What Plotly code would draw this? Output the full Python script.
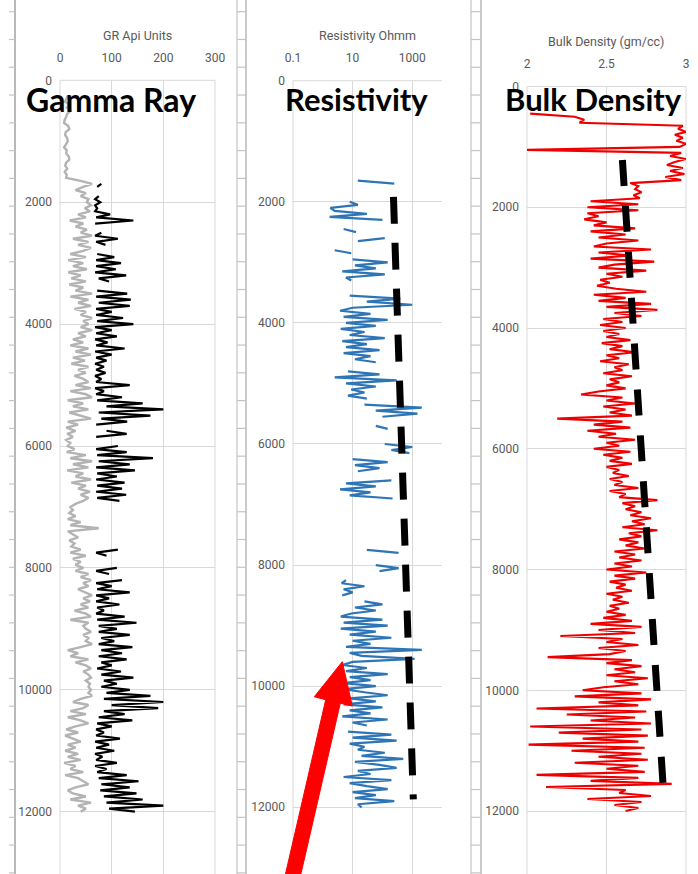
import plotly.graph_objects as go

N = None
W, H = 698, 874

# ---------------- data (depth in ft, sampled every 50 ft) ----------------
depth = list(range(0, 12001, 50))

gr_gray = [
    N, N, N, N, N, 15, 12, 10, 18, 13, 20, 14, 12, 9, 8, 16, 18, 11, 10, 14,
    15, 11, 8, 13, 12, 17, 18, 12, 10, 14, 9, 13, 12, 40, 62, 45, 30, 50, 40, 55,
    52, 60, 48, 58, 35, 50, 19, 45, 30, 52, 40, 62, 25, 55, 35, 60, 45, 20, 50, 16,
    45, 25, 52, 16, 40, 22, 50, 18, 45, 30, 62, 20, 55, 35, 60, 28, 50, 40, 62, 45,
    55, 40, 62, 35, 50, 25, 45, 20, 55, 30, 60, 25, 48, 22, 55, 35, 50, 28, 45, 55,
    30, 60, 20, 50, 62, 15, 45, 25, 55, 18, 40, 60, 15, 35, 12, 30, 14, 25, 12, 20,
    15, 28, 13, 50, 20, 62, 25, 55, 14, 45, 30, 60, 22, 50, 35, 58, 40, 55, 45, 30,
    20, 25, 18, 30, 15, 40, 20, 75, 15, 25, 35, 18, 28, 22, 40, 20, 50, 25, 40, 30,
    45, 30, 55, 40, 60, 45, 55, 35, 50, 62, 45, 58, 40, 55, 28, 50, 60, 20, 55, 45,
    50, 60, 45, 55, 50, 62, 40, 15, 35, 20, 55, 30, 50, 60, 45, 55, 60, 50, 58, 55,
    60, 55, 62, 40, 25, 55, 45, 20, 50, 15, 40, 55, 30, 12, 35, 10, 25, 40, 15, 30,
    10, 35, 15, 40, 8, 30, 20, 45, 10, 35, 45, 55, 30, 15, 25, 50, 20, 60, 35, 50,
    40,
]

gr_black = [
    N, N, N, N, N, N, N, N, N, N, N, N, N, N, N, N, N, N, N, N,
    N, N, N, N, N, N, N, N, N, N, N, N, N, N, 80, 72, N, N, 75, 68,
    78, 68, 72, 68, 97, 70, 142, 68, N, N, 80, 68, 112, 70, 88, N, N, 72, 105, 70,
    118, 70, 108, 68, 128, 75, 95, N, N, 72, 130, 70, 137, 75, 135, 70, 100, 70, 122, 72,
    142, 68, 100, 70, 110, 68, 92, 70, 125, 68, 100, 70, 90, 68, 85, 70, 88, 68, 80, 70,
    135, 68, 85, 70, 120, 72, 160, 90, 200, 75, 175, 80, 130, 70, N, 90, 129, 70, N, N,
    112, 70, 129, 72, 180, 75, 135, 70, 145, 72, 110, 70, 125, 72, 120, 70, 128, 72, 115, N,
    N, N, N, N, N, N, N, N, N, N, N, N, N, N, 112, 70, 90, N, N, N,
    110, 70, 95, N, 120, 70, 100, 72, 135, 70, 95, 70, 115, 72, 85, 70, 125, 72, 148, 75,
    110, 75, 135, 80, 105, 75, 140, 80, 120, 75, 129, 80, 100, 72, 118, 80, 142, 85, 110, 80,
    135, 90, 175, 85, 200, 100, 190, 85, 125, 75, 140, 72, 100, 70, 85, 70, 116, 68, 95, 70,
    105, 68, 82, 70, 110, 68, 90, 72, 129, 75, 152, 80, 135, 78, 148, 85, 160, 90, 200, 95,
    145,
]

res_ohmm = [
    N, N, N, N, N, N, N, N, N, N, N, N, N, N, N, N, N, N, N, N,
    N, N, N, N, N, N, N, N, N, N, N, N, N, 15, 250, N, N, N, N, N,
    8, 15, 1.8, 2.5, 30, 1.7, 100, N, N, 5, 13, N, 120, 15, N, N, 2.5, 9, N, 10,
    150, 12, 60, 4.5, 120, 6, 9, N, N, N, N, 8, 400, 30, 1000, 10, 3.8, 40, 5, 150,
    6, 60, 4, 25, 8, 120, 4.5, 30, 6, 80, 5, 40, 12, 60, N, N, 7, 80, 2.5, 300,
    6, 60, 9, 25, 7, 30, N, 25, 2100, 60, 1500, 100, N, N, 60, 150, N, N, N, N,
    120, 1000, 200, 800, N, 10, 150, 12, 80, 15, N, N, 200, 6, 60, 3.8, 40, 8, 220, N,
    N, N, N, N, N, N, N, N, N, N, N, N, N, N, N, 30, 350, N, N, N,
    60, 350, 80, N, N, 6, 4.3, 25, 5, 10, 4.5, N, 25, 100, 12, 60, 9, 4, 100, 5,
    150, 4, 60, 8, 200, 10, 40, 6, 2100, 8, 20, 1200, 10, 4.5, 30, 6, 150, 8, 40, 5,
    60, 5, 25, 150, 8, 60, 5, 100, 8, 40, 4.5, 150, 10, 30, N, 7, 200, 10, 300, 8,
    25, 15, 120, 20, 500, 12, 80, 300, 15, 40, 5, 200, 8, 30, 150, 10, 60, 12, 250, 15,
    20,
]

rhob = [
    N, N, N, N, N, N, N, N, N, 2.02, 2.30, 2.36, 2.33, 2.98, 2.95, 3.0, 2.93, 2.98, 2.94, 3.0,
    2.96, 2.0, 2.97, 2.90, 3.0, 2.93, 2.88, 2.98, 2.90, 2.99, 2.87, 2.97, 2.65, 2.70, 2.68, 2.72, 2.67, 2.71, 2.40, 2.70,
    2.38, 2.70, 2.38, 2.45, 2.36, 2.50, 2.42, 2.68, 2.40, 2.62, 2.45, 2.70, 2.50, 2.42, 2.78, 2.45, 2.65, 2.40, 2.80, 2.55,
    2.45, 2.75, 2.50, 2.60, 2.46, 2.52, 2.44, 2.56, 2.75, 2.42, 2.62, 2.45, 2.78, 2.50, 2.82, 2.55, 2.72, 2.48, 2.60, 2.46,
    2.62, 2.48, 2.58, 2.50, 2.65, 2.47, 2.60, 2.52, 2.68, 2.50, 2.58, 2.46, 2.64, 2.55, 2.60, 2.48, 2.66, 2.52, 2.58, 2.50,
    2.62, 2.45, 2.34, 2.60, 2.50, 2.68, 2.48, 2.62, 2.52, 2.66, 2.19, 2.60, 2.42, 2.65, 2.38, 2.56, 2.45, 2.68, 2.50, 2.58,
    2.42, 2.65, 2.48, 2.60, 2.52, 2.66, 2.50, 2.58, 2.54, 2.64, 2.52, 2.60, 2.55, 2.70, 2.52, 2.62, 2.58, 2.82, 2.60, 2.68,
    2.62, 2.72, 2.65, 2.78, 2.66, 2.74, 2.60, 2.82, 2.64, 2.72, 2.58, 2.70, 2.62, 2.74, 2.55, 2.68, 2.58, 2.72, 2.55, 2.66,
    2.50, 2.75, 2.55, 2.68, 2.52, 2.62, 2.56, 2.66, 2.50, 2.60, 2.54, 2.64, 2.52, 2.58, 2.50, 2.62, 2.48, 2.66, 2.40, 2.72,
    2.45, 2.68, 2.21, 2.60, 2.50, 2.70, 2.45, 2.62, 2.52, 2.13, 2.66, 2.50, 2.72, 2.55, 2.68, 2.50, 2.76, 2.55, 2.70, 2.48,
    2.35, 2.72, 2.30, 2.78, 2.45, 2.70, 2.06, 2.75, 2.25, 2.68, 2.40, 2.78, 2.02, 2.72, 2.20, 2.76, 2.35, 2.70, 2.01, 2.74,
    2.28, 2.72, 2.45, 2.76, 2.30, 2.70, 2.50, 2.74, 2.06, 2.70, 2.40, 2.91, 2.12, 2.62, 2.58, 2.78, 2.38, 2.72, 2.55, 2.70,
    2.62,
]

# hand-drawn trend lines
res_trend_ohmm = [235, 1090]
res_trend_depth = [1917, 11870]
rhob_trend = [2.60, 2.855]
rhob_trend_depth = [1217, 11535]

depth_ticks = [0, 2000, 4000, 6000, 8000, 10000, 12000]
depth_labels = ["0", "2000", "4000", "6000", "8000", "10000", "12000"]
gr_ticks = [0, 100, 200, 300]
gr_labels = ["0", "100", "200", "300"]
res_ticks = [0.1, 10, 1000]
res_labels = ["0.1", "10", "1000"]
rhob_ticks = [2, 2.5, 3]
rhob_labels = ["2", "2.5", "3"]

for s in (gr_gray, gr_black, res_ohmm, rhob):
    assert len(s) == len(depth), len(s)

# ---------------- styling ----------------
SMALL = "Roboto, sans-serif"
BIG = "Lato, Open Sans, sans-serif"
GRID = "#d9d9d9"
LBL = "#595959"


def px(x):
    return x / W


def py(y):
    return 1 - y / H


fig = go.Figure()
fig.add_trace(go.Scatter(x=gr_gray, y=depth, mode="lines", line=dict(color="#b3b3b3", width=2.4),
                         xaxis="x", yaxis="y", connectgaps=False, showlegend=False))
fig.add_trace(go.Scatter(x=gr_black, y=depth, mode="lines", line=dict(color="#000000", width=2.2),
                         xaxis="x", yaxis="y", connectgaps=False, showlegend=False))
fig.add_trace(go.Scatter(x=res_ohmm, y=depth, mode="lines", line=dict(color="#2e75b6", width=2.2),
                         xaxis="x2", yaxis="y2", connectgaps=False, showlegend=False))
fig.add_trace(go.Scatter(x=res_trend_ohmm, y=res_trend_depth, mode="lines",
                         line=dict(color="#000000", width=7, dash="27px,19px"),
                         xaxis="x2", yaxis="y2", showlegend=False))
fig.add_trace(go.Scatter(x=rhob, y=depth, mode="lines", line=dict(color="#ee0000", width=2.1),
                         xaxis="x3", yaxis="y3", connectgaps=False, showlegend=False))
fig.add_trace(go.Scatter(x=rhob_trend, y=rhob_trend_depth, mode="lines",
                         line=dict(color="#000000", width=7, dash="26px,20px"),
                         xaxis="x3", yaxis="y3", showlegend=False))

tickfont = dict(family=SMALL, size=12, color=LBL)
common_x = dict(side="top", showgrid=True, gridcolor=GRID, gridwidth=1, zeroline=False,
                showline=False, ticks="", tickfont=tickfont, ticklabelstandoff=15,
                automargin=False, fixedrange=True)
common_y = dict(showgrid=True, gridcolor=GRID, gridwidth=1, zeroline=False, showline=False,
                ticks="", tickfont=tickfont, ticklabelstandoff=7, tickvals=depth_ticks,
                ticktext=depth_labels, automargin=False, fixedrange=True)

fig.update_layout(
    width=W, height=H, margin=dict(l=0, r=0, t=0, b=0, autoexpand=False),
    paper_bgcolor="white", plot_bgcolor="white", showlegend=False,
    xaxis=dict(common_x, domain=[px(60), px(215)], range=[0, 300], anchor="y",
               tickvals=gr_ticks, ticktext=gr_labels),
    yaxis=dict(common_y, domain=[0, py(80.3)], range=[13022, 0], anchor="x"),
    xaxis2=dict(common_x, domain=[px(293), px(442)], type="log", range=[-1, 4], anchor="y2",
                tickvals=res_ticks, ticktext=res_labels),
    yaxis2=dict(common_y, domain=[0, py(80.7)], range=[13102, 0], anchor="x2"),
    xaxis3=dict(common_x, domain=[px(527), px(686)], range=[2, 3], anchor="y3",
                tickvals=rhob_ticks, ticktext=rhob_labels),
    yaxis3=dict(common_y, domain=[0, py(86.5)], range=[13042, 0], anchor="x3"),
)

# axis titles and large panel labels
annos = [
    ("GR Api Units", 137.5, 35, 12.5, SMALL, LBL, False),
    ("Resistivity Ohmm", 367.5, 35, 12.5, SMALL, LBL, False),
    ("Bulk Density (gm/cc)", 606, 42, 12.5, SMALL, LBL, False),
    ("Gamma Ray", 111, 99, 32, BIG, "#000000", True),
    ("Resistivity", 356, 99, 31, BIG, "#000000", True),
    ("Bulk Density", 593, 99, 31, BIG, "#000000", True),
]
for text, x, y, size, fam, col, bold in annos:
    fig.add_annotation(text=("<b>%s</b>" % text) if bold else text, x=px(x), y=py(y),
                       xref="paper", yref="paper", showarrow=False, xanchor="center",
                       yanchor="middle", font=dict(family=fam, size=size, color=col))

shapes = []
# plot-area edge lines (left/right value limits and depth 0)
for xr, yr, edges in [("x", "y", (0, 1)), ("x2", "y2", (0,)), ("x3", "y3", (0, 1))]:
    for e in edges:
        shapes.append(dict(type="line", xref=xr + " domain", yref=yr + " domain", x0=e, x1=e,
                           y0=0, y1=1, line=dict(color=GRID, width=1), layer="below"))
    shapes.append(dict(type="line", xref=xr + " domain", yref=yr + " domain", x0=0, x1=1,
                       y0=1, y1=1, line=dict(color=GRID, width=1), layer="below"))

# spreadsheet-like background strips
for xl, col, wd in [(15, "#b8b8b8", 2), (237, "#cfcfcf", 1.5), (246, "#b8b8b8", 1.5),
                    (471, "#cfcfcf", 1.5), (481, "#b8b8b8", 1.5)]:
    shapes.append(dict(type="line", xref="paper", yref="paper", x0=px(xl), x1=px(xl), y0=0, y1=1,
                       line=dict(color=col, width=wd), layer="below"))
k = 0
while 11.7 + 27.78 * k < H:
    yy = 11.7 + 27.78 * k
    for x0, x1 in [(9, 15), (237, 246), (471, 481)]:
        shapes.append(dict(type="line", xref="paper", yref="paper", x0=px(x0), x1=px(x1),
                           y0=py(yy), y1=py(yy), line=dict(color="#c4c4c4", width=1.2), layer="below"))
    k += 1

# big red arrow
arrow_pts = [(342.3, 661.7), (352.3, 706), (340.3, 703.2), (299.1, 881.7), (284.5, 878.3),
             (325.7, 699.8), (314.3, 696.7)]
path = "M " + " L ".join("%.5f,%.5f" % (px(a), py(b)) for a, b in arrow_pts) + " Z"
shapes.append(dict(type="path", xref="paper", yref="paper", path=path, fillcolor="#ff0000",
                   line=dict(color="#ff0000", width=1), layer="above"))
fig.update_layout(shapes=shapes)

fig.write_html("out.html")
